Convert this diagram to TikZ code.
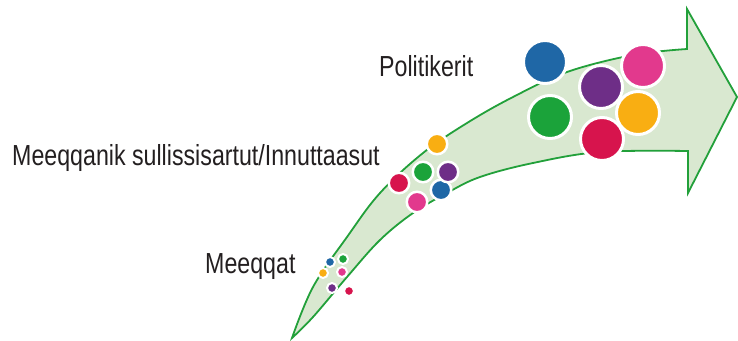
\documentclass[tikz,border=0pt]{standalone}
\usepackage{fontspec}
\setmainfont{Liberation Sans}[FakeStretch=0.8]
\definecolor{cblue}{HTML}{1F67A6}
\definecolor{cgreen}{HTML}{1BA33A}
\definecolor{cpurple}{HTML}{6E2E87}
\definecolor{cpink}{HTML}{E2398D}
\definecolor{corange}{HTML}{F9AE12}
\definecolor{cred}{HTML}{D7144D}
\definecolor{arrfill}{HTML}{D9E8D0}
\definecolor{arrline}{HTML}{22A03A}
\definecolor{txt}{HTML}{231F20}
\begin{document}
\begin{tikzpicture}[x=1pt,y=-1pt,
  bigdot/.style={circle,inner sep=0pt,minimum size=43pt,draw=white,line width=3pt,fill=#1},
  middot/.style={circle,inner sep=0pt,minimum size=20.5pt,draw=white,line width=2.5pt,fill=#1},
  smalldot/.style={circle,inner sep=0pt,minimum size=10pt,draw=white,line width=2pt,fill=#1},
  lbl/.style={anchor=base west,inner sep=0pt,text=txt,font=\fontsize{29}{32}\selectfont}]
\useasboundingbox (0,0) rectangle (738,340);
% arrow
\draw[arrline,fill=arrfill,line width=1.8pt,line join=miter]
  plot[smooth,tension=0.6] coordinates {(292,338) (313,287) (347,237) (380,193) (423,153) (467,123) (513,97) (567,72) (633,55) (687,49)}
  -- (687,9) -- (737,97) -- (688,193) -- (688,151)
  -- plot[smooth,tension=0.6] coordinates {(688,151) (600,152) (533,163) (480,177) (447,193) (413,213) (380,240) (347,277) (313,317) (292,338)}
  -- cycle;
% labels
\node[lbl] (lpol) at (379,76) {Politikerit};
\node[lbl] (lmid) at (12,165) {Meeqqanik sullissisartut/Innuttaasut};
\node[lbl] (lsml) at (205,273) {Meeqqat};
% large dots
\node[bigdot=cpink]   (bpink)   at (643,66) {};
\node[bigdot=corange] (borange) at (638,113) {};
\node[bigdot=cpurple] (bpurple) at (601,87) {};
\node[bigdot=cred]    (bred)    at (602,139) {};
\node[bigdot=cgreen]  (bgreen)  at (550,117) {};
\node[bigdot=cblue]   (bblue)   at (545,62) {};
% medium dots
\node[middot=corange] (morange) at (437,144) {};
\node[middot=cgreen]  (mgreen)  at (423,172) {};
\node[middot=cblue]   (mblue)   at (441,190) {};
\node[middot=cpurple] (mpurple) at (448,172) {};
\node[middot=cred]    (mred)    at (399,183) {};
\node[middot=cpink]   (mpink)   at (417,202) {};
% small dots
\node[smalldot=cblue]   (sblue)   at (330,262) {};
\node[smalldot=cgreen]  (sgreen)  at (343,259) {};
\node[smalldot=corange] (sorange) at (323,273) {};
\node[smalldot=cpink]   (spink)   at (342,272) {};
\node[smalldot=cpurple] (spurple) at (332,288) {};
\node[smalldot=cred]    (sred)    at (349,291) {};
\end{tikzpicture}
\end{document}
